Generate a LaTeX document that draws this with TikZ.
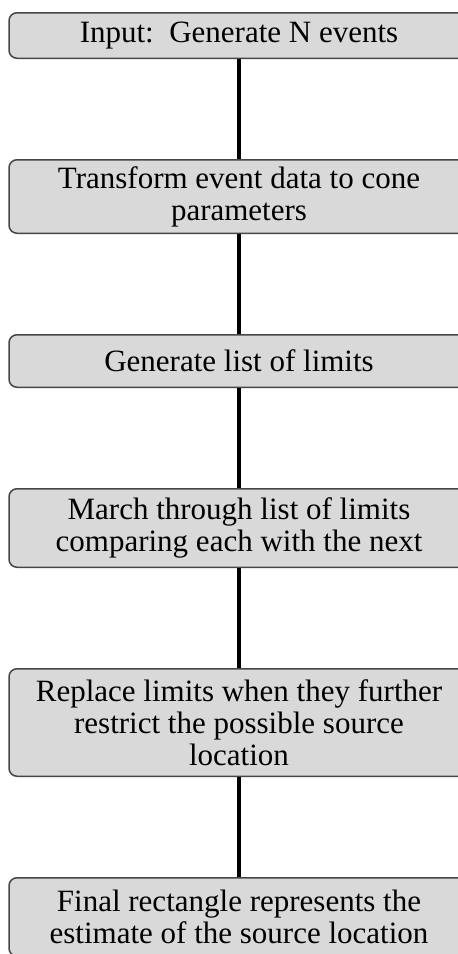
\documentclass[tikz,border=0pt]{standalone}
\usepackage{fontspec}
\setmainfont{Liberation Serif}
\usetikzlibrary{positioning}
\definecolor{boxfill}{RGB}{217,217,217}
\definecolor{boxline}{RGB}{70,70,70}

\begin{document}
\begin{tikzpicture}[
	x=1pt, y=-1pt,
	node distance=100pt,
	stepbox/.style = {draw=boxline, line width=1.5pt, fill=boxfill, rounded corners=8pt,
		minimum width=460pt, inner sep=0pt, align=center, font=\fontsize{31}{32}\selectfont},
	link/.style = {line width=4pt}
]
\useasboundingbox (0,0) rectangle (458,954);

\node[stepbox, minimum height=45.5pt, anchor=north] (input) at (239,12) {Input:\ \ Generate N events};
\node[stepbox, minimum height=73.5pt, below=of input] (cone) {Transform event data to cone\\parameters};
\node[stepbox, minimum height=52.5pt, below=of cone] (limits) {Generate list of limits};
\node[stepbox, minimum height=78.5pt, below=of limits] (march) {March through list of limits\\comparing each with the next};
\node[stepbox, minimum height=107.5pt, below=of march] (replace) {Replace limits when they further\\restrict the possible source\\location};
\node[stepbox, minimum height=78.5pt, below=of replace] (final) {Final rectangle represents the\\estimate of the source location};

\draw[link] (input) -- (cone);
\draw[link] (cone) -- (limits);
\draw[link] (limits) -- (march);
\draw[link] (march) -- (replace);
\draw[link] (replace) -- (final);

\end{tikzpicture}
\end{document}
